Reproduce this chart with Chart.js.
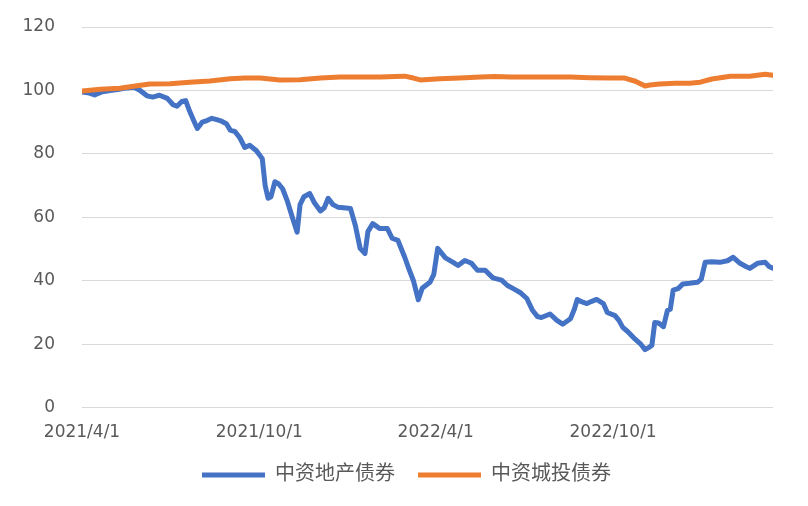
<!DOCTYPE html>
<html>
<head>
<meta charset="utf-8">
<script src="https://cdn.jsdelivr.net/npm/chart.js@4/dist/chart.umd.min.js"></script>
<style>
  body { margin: 0; background: #fff; }
</style>
</head>
<body>
<canvas id="bondChart" width="808" height="506"></canvas>
<script>
// x = days since 2021/4/1
var tickDays = [0, 183, 365, 548];
var tickLabels = ['2021/4/1', '2021/10/1', '2022/4/1', '2022/10/1'];

var propertyDays = [0, 6, 13, 21, 29, 37, 46, 54, 60, 67, 73, 80, 88, 94, 98, 103, 107, 111, 116, 119,
  124, 129, 134, 139, 144, 149, 153, 158, 163, 168, 173, 180, 186, 189, 192, 195, 199, 203, 207, 212,
  217, 222, 225, 229, 235, 240, 246, 250, 254, 259, 264, 270, 277, 282, 287, 292, 295, 300, 307, 315,
  320, 326, 333, 337, 342, 347, 351, 359, 363, 367, 375, 383, 388, 395, 402, 408, 416, 424, 433, 439,
  445, 452, 459, 465, 470, 474, 483, 490, 496, 504, 508, 511, 516, 521, 526, 531, 538, 542, 550, 554,
  558, 563, 569, 576, 581, 585, 588, 591, 595, 600, 604, 607, 610, 615, 620, 627, 635, 639, 643, 650,
  658, 666, 672, 679, 685, 689, 697, 705, 709, 713];
var propertyVals = [99.5, 99.3, 98.6, 99.6, 100, 100.3, 100.8, 101, 100, 98.3, 97.9, 98.5, 97.5, 95.5, 95, 96.5, 96.8, 93.5, 90, 88,
  90, 90.5, 91.2, 90.8, 90.3, 89.5, 87.5, 87, 85, 82, 82.7, 81, 78.5, 70, 66, 66.5, 71.2, 70.5, 69, 65,
  60, 55.3, 64, 66.5, 67.5, 64.5, 62, 63, 66, 64, 63.2, 63, 62.8, 57.5, 50.2, 48.6, 55.5, 58, 56.5, 56.5,
  53.4, 52.7, 47.4, 44, 40, 34, 37.6, 39.5, 42, 50.2, 47.2, 45.8, 44.8, 46.4, 45.5, 43.3, 43.3, 40.9, 40.2, 38.5,
  37.5, 36.3, 34.4, 30.6, 28.7, 28.4, 29.5, 27.5, 26.3, 28, 31, 34.1, 33.3, 32.8, 33.5, 34.1, 32.8, 30, 29, 27.5,
  25.3, 24, 22.1, 20.2, 18.3, 19, 19.6, 26.8, 26.7, 25.5, 30.6, 31, 37, 37.5, 39, 39.2, 39.5, 40.5, 45.8, 46,
  45.8, 46.3, 47.4, 45.5, 44.5, 43.9, 45.5, 45.8, 44.5, 43.9];

var lgfvDays = [0, 19, 39, 55, 70, 91, 111, 132, 153, 168, 184, 194, 204, 225, 246, 266, 287, 308, 323, 333,
  342, 349, 369, 390, 411, 426, 442, 462, 483, 504, 524, 545, 560, 571, 581, 586, 596, 612, 627, 638,
  650, 669, 689, 705, 713];
var lgfvVals = [99.8, 100.4, 100.7, 101.4, 102, 102.1, 102.6, 103, 103.7, 103.9, 103.9, 103.6, 103.3, 103.4, 103.9, 104.2, 104.2, 104.2, 104.4, 104.5,
  103.9, 103.3, 103.7, 103.9, 104.2, 104.4, 104.2, 104.2, 104.2, 104.2, 104.0, 103.9, 103.9, 102.9, 101.4, 101.7, 102, 102.3, 102.3, 102.6,
  103.6, 104.5, 104.5, 105.1, 104.8];

function toPoints(days, vals) {
  return days.map(function (d, i) { return { x: d, y: vals[i] }; });
}

var fontFamily = '"DejaVu Sans", "Noto Sans CJK SC", sans-serif';

// move the legend box a bit (right and up) to sit where the original has it
var legendShift = {
  id: 'legendShift',
  afterLayout: function (chart) {
    chart.legend.left += 9;
    chart.legend.right += 9;
    chart.legend.top -= 16;
    chart.legend.bottom -= 16;
  }
};

var ctx = document.getElementById('bondChart').getContext('2d');
var bondChart = new Chart(ctx, {
  type: 'line',
  data: {
    datasets: [{
      label: '中资地产债券',
      data: toPoints(propertyDays, propertyVals),
      borderColor: '#4472C4',
      backgroundColor: '#4472C4',
      borderWidth: 5,
      borderCapStyle: 'round',
      borderJoinStyle: 'round',
      pointRadius: 0,
      pointStyle: 'line',
      order: 2
    }, {
      label: '中资城投债券',
      data: toPoints(lgfvDays, lgfvVals),
      borderColor: '#ED7D31',
      backgroundColor: '#ED7D31',
      borderWidth: 5,
      borderCapStyle: 'round',
      borderJoinStyle: 'round',
      pointRadius: 0,
      pointStyle: 'line',
      order: 1
    }]
  },
  plugins: [legendShift],
  options: {
    responsive: false,
    animation: false,
    layout: {
      padding: { left: 22, right: 35, top: 27, bottom: -5 }
    },
    scales: {
      x: {
        type: 'linear',
        min: 0,
        max: 713,
        grid: { display: false, drawTicks: false },
        border: { display: false },
        afterBuildTicks: function (scale) {
          scale.ticks = tickDays.map(function (d) { return { value: d }; });
        },
        ticks: {
          autoSkip: false,
          maxRotation: 0,
          padding: 15,
          color: '#595959',
          font: { family: fontFamily, size: 17 },
          callback: function (value) {
            var i = tickDays.indexOf(value);
            return i >= 0 ? tickLabels[i] : '';
          }
        }
      },
      y: {
        min: 0,
        max: 120,
        afterFit: function (scale) {
          scale.width = 60;
          scale.paddingTop = 0;
          scale.paddingBottom = 0;
        },
        grid: { color: '#D9D9D9', lineWidth: 1, drawTicks: false },
        border: { display: false },
        ticks: {
          stepSize: 20,
          padding: 27,
          color: '#595959',
          font: { family: fontFamily, size: 17 }
        }
      }
    },
    plugins: {
      tooltip: { enabled: false },
      legend: {
        position: 'bottom',
        labels: {
          usePointStyle: true,
          pointStyleWidth: 63,
          padding: 23,
          color: '#595959',
          font: { family: fontFamily, size: 20 },
          sort: function (a, b) { return a.datasetIndex - b.datasetIndex; }
        }
      }
    }
  }
});
</script>
</body>
</html>
